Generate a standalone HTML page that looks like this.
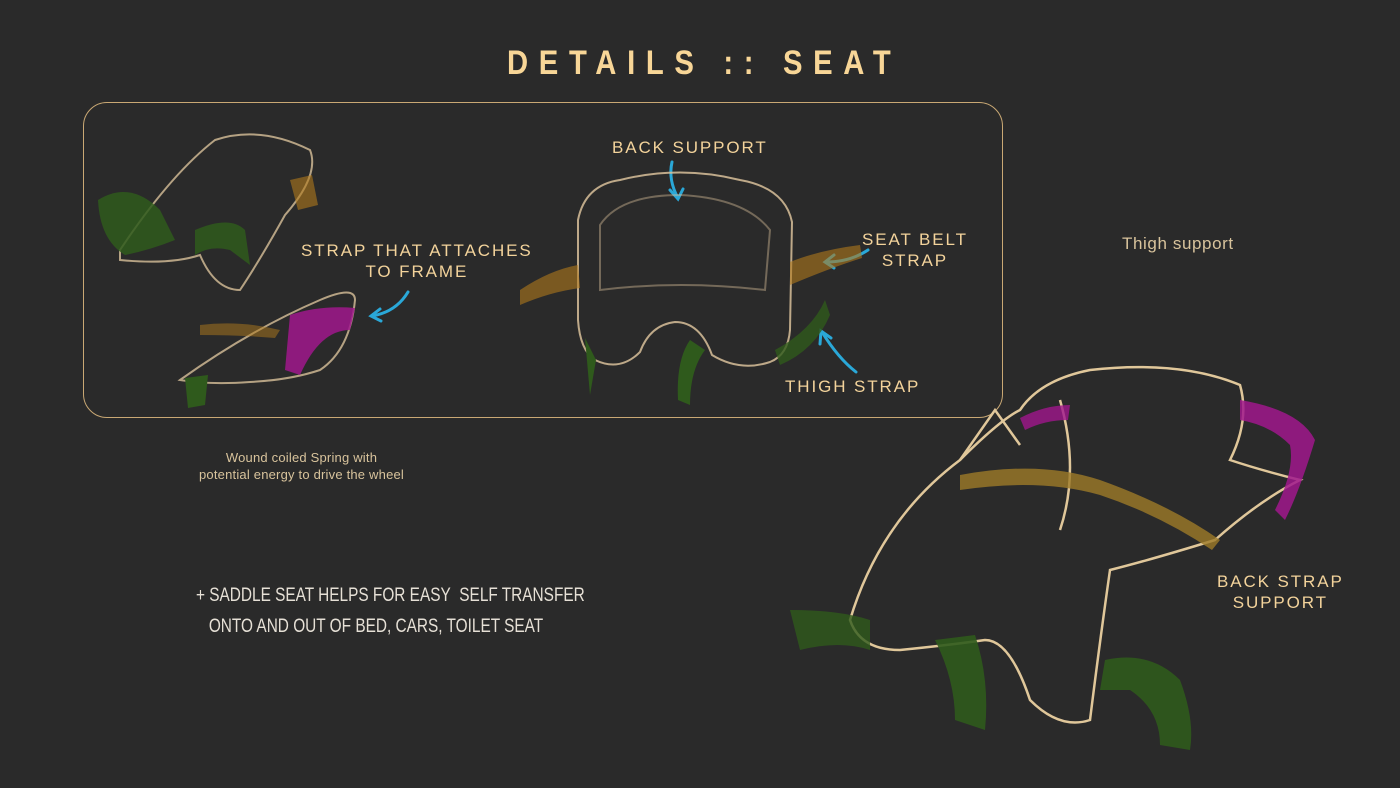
<!DOCTYPE html>
<html><head><meta charset="utf-8"><style>
html,body{margin:0;padding:0;background:#2a2a2a;}
body{width:1400px;height:788px;overflow:hidden;position:relative;font-family:"Liberation Sans",sans-serif;}
.t{position:absolute;color:#f3d39b;white-space:nowrap;}
.l{font-size:17px;letter-spacing:1.9px;}
</style></head><body>
<div class="t" style="left:507px;top:44px;font-size:34px;font-weight:bold;letter-spacing:12.4px;color:#f8d697;transform:scaleX(0.86);transform-origin:left top;">DETAILS :: SEAT</div>
<div style="position:absolute;left:83px;top:102px;width:918px;height:314px;border:1.5px solid #c9a874;border-radius:24px;"></div>
<div class="t l" style="left:612px;top:138px;">BACK SUPPORT</div>
<div class="t l" style="left:301px;top:240px;text-align:center;line-height:21px;">STRAP THAT ATTACHES<br>TO FRAME</div>
<div class="t l" style="left:862px;top:229px;line-height:21px;text-align:center;">SEAT BELT<br>STRAP</div>
<div class="t l" style="left:785px;top:377px;">THIGH STRAP</div>
<div class="t" style="left:1122px;top:234px;font-size:17px;letter-spacing:0.6px;color:#d8c39c;">Thigh support</div>
<div class="t" style="left:199px;top:449px;font-size:13px;letter-spacing:0.2px;line-height:17px;text-align:center;color:#d8c39c;">Wound coiled Spring with<br>potential energy to drive the wheel</div>
<div class="t" style="left:196px;top:580px;font-size:19px;line-height:31px;color:#e6e0d6;transform:scaleX(0.81);transform-origin:left top;">+ SADDLE SEAT HELPS FOR EASY&nbsp; SELF TRANSFER<br>&nbsp;&nbsp;&nbsp;ONTO AND OUT OF BED, CARS, TOILET SEAT</div>
<div class="t l" style="left:1217px;top:571px;line-height:21px;text-align:center;">BACK STRAP<br>SUPPORT</div>
<svg width="1400" height="788" style="position:absolute;left:0;top:0" fill="none">
<g stroke="#2aa8d8" stroke-width="3" stroke-linecap="round">
<path d="M672 162 Q668 180 678 198"/><path d="M670 190 L678 199 L683 189"/>
<path d="M868 250 Q850 262 826 262"/><path d="M834 255 L825 262 L834 268"/>
<path d="M856 372 Q838 358 822 332"/><path d="M820 344 L821 331 L831 338"/>
<path d="M408 292 Q396 312 372 316"/><path d="M380 309 L371 316 L381 321"/>
</g>
<g stroke="#d8c09a" stroke-width="2" opacity="0.85">
<path d="M578 220 Q585 185 620 180 Q680 165 740 180 Q785 188 792 222 L790 330 Q788 355 770 362 Q740 372 712 355 Q700 322 675 322 Q650 325 640 352 Q620 372 595 360 Q580 350 578 320 Z"/>
<path d="M600 225 Q620 195 680 195 Q745 198 770 230 L765 290 Q680 280 600 290 Z" opacity="0.5"/>
</g>
<path d="M520 290 Q550 270 578 265 L580 288 Q550 292 520 305Z" fill="#b07a1c" opacity="0.6"/>
<path d="M790 262 Q820 250 860 245 L862 258 Q830 268 790 285Z" fill="#b07a1c" opacity="0.6"/>
<path d="M775 350 Q812 330 825 300 L830 315 Q815 350 780 365Z" fill="#2f5a1c" opacity="0.8"/>
<path d="M585 338 L596 360 L590 395 Z" fill="#2f5a1c"/><path d="M690 340 Q676 360 678 400 L690 405 Q690 370 705 350Z" fill="#2f5a1c"/>
<g stroke="#d8c09a" stroke-width="2" opacity="0.8">
<path d="M120 250 Q170 175 215 140 Q260 125 310 150 Q320 175 285 215 Q260 260 240 290 Q215 290 200 255 Q170 265 120 260Z"/>
</g>
<path d="M98 200 Q130 180 160 210 L175 240 Q150 250 125 255 Q100 240 98 200Z" fill="#2f5a1c" opacity="0.85"/>
<path d="M195 230 Q230 215 245 230 L250 265 L230 250 Q210 245 195 255Z" fill="#2f5a1c" opacity="0.85"/>
<path d="M290 180 L312 175 L318 205 L298 210Z" fill="#b07a1c" opacity="0.6"/>
<g stroke="#d8c09a" stroke-width="2" opacity="0.8">
<path d="M180 380 Q250 330 320 300 Q355 285 355 300 Q350 350 320 370 Q290 380 250 382 Q210 385 180 380Z"/>
</g>
<path d="M290 315 Q320 305 355 308 L350 330 Q320 330 300 375 L285 370Z" fill="#a0178c" opacity="0.85"/>
<path d="M200 325 Q240 320 280 330 L275 338 Q240 335 200 335Z" fill="#b07a1c" opacity="0.5"/>
<path d="M185 378 L208 375 L205 405 L188 408Z" fill="#2f5a1c"/>
<g stroke="#e0c79a" stroke-width="2.5">
<path d="M850 620 Q880 520 960 460 Q1000 420 1020 410 Q1040 380 1090 370 Q1180 360 1240 385 Q1250 420 1230 460 Q1260 470 1300 480 Q1260 500 1215 540 Q1150 560 1110 570 Q1100 640 1090 720 Q1060 730 1030 700 Q1010 640 985 640 Q950 645 900 650 Q860 650 850 620Z"/>
<path d="M960 460 L995 410 L1020 445" />
<path d="M1060 400 Q1080 470 1060 530"/>
</g>
<path d="M960 475 Q1040 460 1100 480 Q1170 505 1220 540 L1212 550 Q1160 515 1100 495 Q1040 478 960 490Z" fill="#9d7a28" opacity="0.8"/>
<path d="M1020 418 Q1045 405 1070 405 L1068 420 Q1045 420 1025 430Z" fill="#a0178c" opacity="0.8"/>
<path d="M1240 400 Q1300 410 1315 440 Q1300 490 1285 520 L1275 510 Q1295 470 1290 445 Q1270 425 1240 420Z" fill="#a0178c" opacity="0.85"/>
<path d="M790 610 Q840 610 870 620 L870 650 Q840 640 800 650Z" fill="#2f5a1c" opacity="0.8"/>
<path d="M935 640 L975 635 Q990 680 985 730 L955 720 Q955 680 935 640Z" fill="#2f5a1c" opacity="0.9"/>
<path d="M1105 660 Q1150 650 1180 680 Q1195 720 1190 750 L1160 745 Q1160 710 1130 690 Q1115 690 1100 690Z" fill="#2f5a1c" opacity="0.9"/>
</svg>
</body></html>
